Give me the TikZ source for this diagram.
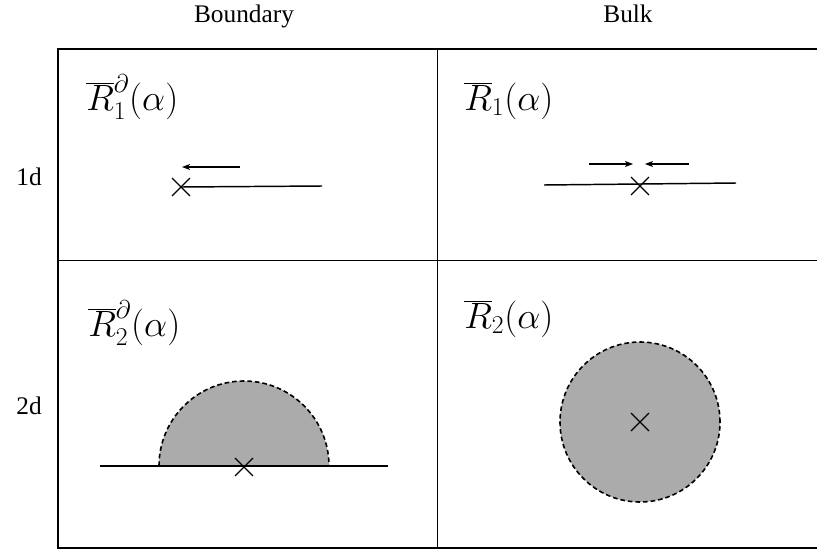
\RequirePackage{fix-cm}
\documentclass[tikz,border=0pt]{standalone}
\usepackage{fontspec}
\setmainfont{Liberation Serif}
\usetikzlibrary{shapes.misc,arrows.meta}
\definecolor{regiongray}{HTML}{ABABAB}
\begin{document}
\begin{tikzpicture}[x=0.75pt,y=-0.75pt,
  outerline/.style={line width=1.5pt},
  innerline/.style={line width=0.75pt},
  axisline/.style={line width=1.1pt},
  xmark/.style={cross out,draw,line width=0.9pt,minimum size=12.5pt,inner sep=0pt},
  smallarrow/.style={line width=0.9pt,-{Stealth[length=6pt,width=4.5pt,inset=1.5pt]}},
  dashedge/.style={line width=1.2pt,dash pattern=on 3.5pt off 2.2pt},
  region/.style={fill=regiongray,draw,dashedge},
  headtext/.style={font=\fontsize{19}{22}\selectfont,anchor=base,inner sep=0pt},
  rowtext/.style={font=\fontsize{19}{22}\selectfont,anchor=base east,inner sep=0pt},
  mathlabel/.style={font=\fontsize{27.5}{32}\selectfont,anchor=base west,inner sep=0pt}]
\useasboundingbox (0,0) rectangle (817,550);
% table
\draw[outerline] (817,49) -- (58,49) -- (58,548) -- (817,548);
\draw[innerline] (58,260) -- (817,260);
\draw[innerline] (437,49) -- (437,548);
% headers
\node[headtext] (hb) at (244,22) {Boundary};
\node[headtext] (hk) at (628,22) {Bulk};
\node[rowtext] (r1) at (42,185) {1d};
\node[rowtext] (r2) at (42,414) {2d};
% labels
\node[mathlabel] (l11) at (86,110) {$\overline{R}^{\partial}_{1}(\alpha)$};
\node[mathlabel] (l12) at (464,110) {$\overline{R}_{1}(\alpha)$};
\node[mathlabel] (l21) at (88,336) {$\overline{R}^{\partial}_{2}(\alpha)$};
\node[mathlabel] (l22) at (464,328) {$\overline{R}_{2}(\alpha)$};
% 1d boundary
\node[xmark] (x11) at (181,187) {};
\coordinate (e11) at (322,186);
\draw[axisline] (e11) -- (x11.center);
\coordinate (a11s) at (240,167);
\coordinate (a11e) at (182,167);
\draw[smallarrow] (a11s) -- (a11e);
% 1d bulk
\coordinate (b12l) at (544,185);
\coordinate (b12r) at (736,183);
\draw[axisline] (b12l) -- (b12r);
\node[xmark] (x12) at (640,186) {};
\coordinate (a12ls) at (589,164);
\coordinate (a12le) at (633,164);
\coordinate (a12rs) at (689,164);
\coordinate (a12re) at (645,164);
\draw[smallarrow] (a12ls) -- (a12le);
\draw[smallarrow] (a12rs) -- (a12re);
% 2d boundary
\fill[regiongray] (159,466) arc[start angle=180,end angle=360,radius=85] -- cycle;
\draw[dashedge] (159,466) arc[start angle=180,end angle=360,radius=85];
\coordinate (b21l) at (100,466);
\coordinate (b21r) at (388,466);
\draw[axisline] (b21l) -- (b21r);
\node[xmark] (x21) at (244,467) {};
% 2d bulk
\node[region,circle,minimum size=120pt,inner sep=0pt] (disk) at (640,422) {};
\node[xmark] (x22) at (disk.center) {};
\end{tikzpicture}
\end{document}
